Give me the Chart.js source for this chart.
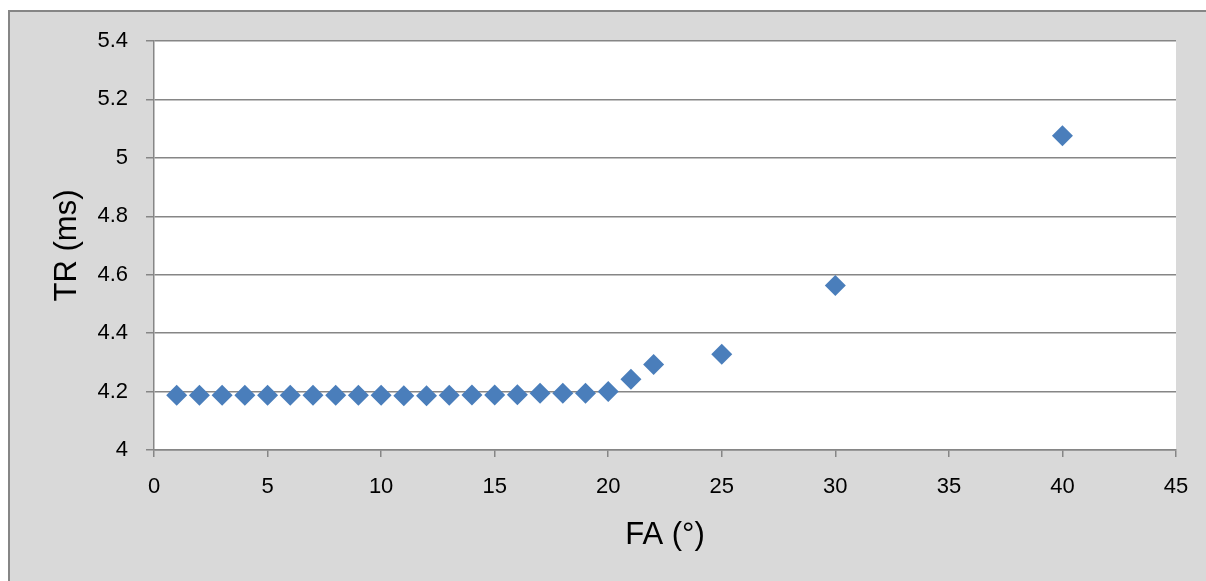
<!DOCTYPE html>
<html>
<head>
<meta charset="utf-8">
<script src="https://cdn.jsdelivr.net/npm/chart.js@4/dist/chart.umd.min.js"></script>
<style>
html,body{margin:0;padding:0;background:#fff;}
#wrap{position:relative;width:1206px;height:581px;}
</style>
</head>
<body>
<div id="wrap"><canvas id="c" width="1206" height="581"></canvas></div>
<script>
const faValues = [1,2,3,4,5,6,7,8,9,10,11,12,13,14,15,16,17,18,19,20,21,22,25,30,40];
const trValues = [4.187,4.187,4.187,4.187,4.187,4.187,4.187,4.187,4.187,4.187,4.186,4.186,4.187,4.188,4.188,4.189,4.194,4.194,4.194,4.2,4.242,4.293,4.328,4.563,5.076];
const xTitle = 'FA (°)';
const yTitle = 'TR (ms)';

const points = faValues.map((x, i) => ({x: x, y: trValues[i]}));

const bgPlugin = {
  id: 'bg',
  beforeDraw(chart) {
    const ctx = chart.ctx;
    const a = chart.chartArea;
    ctx.save();
    ctx.fillStyle = '#ffffff';
    ctx.fillRect(0, 0, chart.width, chart.height);
    ctx.fillStyle = '#d9d9d9';
    ctx.fillRect(9, 11, chart.width, chart.height);
    ctx.strokeStyle = '#868686';
    ctx.lineWidth = 2;
    ctx.strokeRect(9, 11, chart.width + 10, chart.height + 10);
    ctx.fillStyle = '#ffffff';
    ctx.fillRect(a.left, a.top, a.right - a.left, a.bottom - a.top);
    ctx.restore();
  }
};

const FONT = "'Liberation Sans', Arial, sans-serif";

new Chart(document.getElementById('c'), {
  type: 'scatter',
  data: {
    datasets: [{
      data: points,
      pointStyle: 'rectRot',
      pointRadius: 10.5,
      pointHoverRadius: 10.5,
      backgroundColor: '#4a7ebb',
      borderColor: '#4a7ebb',
      borderWidth: 0
    }]
  },
  options: {
    responsive: false,
    animation: false,
    layout: {padding: {left: 0, top: 41, right: 30, bottom: 0}},
    plugins: {legend: {display: false}, tooltip: {enabled: false}},
    scales: {
      x: {
        type: 'linear',
        min: 0, max: 45,
        afterFit(s) { s.height = 131; },
        ticks: {stepSize: 5, color: '#000', font: {family: FONT, size: 22}, padding: 17, maxRotation: 0},
        grid: {display: true, drawOnChartArea: false, drawTicks: true, tickLength: 7, color: '#868686', lineWidth: 1.5},
        border: {display: true, color: '#868686', width: 1.5},
        title: {display: true, text: xTitle, color: '#000', font: {family: FONT, size: 31}, padding: {top: 0, bottom: 27}}
      },
      y: {
        type: 'linear',
        min: 4, max: 5.4,
        afterFit(s) { s.width = 154; },
        ticks: {stepSize: 0.2, color: '#000', font: {family: FONT, size: 22}, padding: 18,
          callback: (v) => Math.round(v * 10) / 10 + ''},
        grid: {display: true, drawTicks: true, tickLength: 8, color: '#868686', lineWidth: 1.5},
        border: {display: true, color: '#868686', width: 1.5},
        title: {display: true, text: yTitle, color: '#000', font: {family: FONT, size: 31}, padding: {top: 49, bottom: 0}}
      }
    }
  },
  plugins: [bgPlugin]
});
</script>
</body>
</html>
